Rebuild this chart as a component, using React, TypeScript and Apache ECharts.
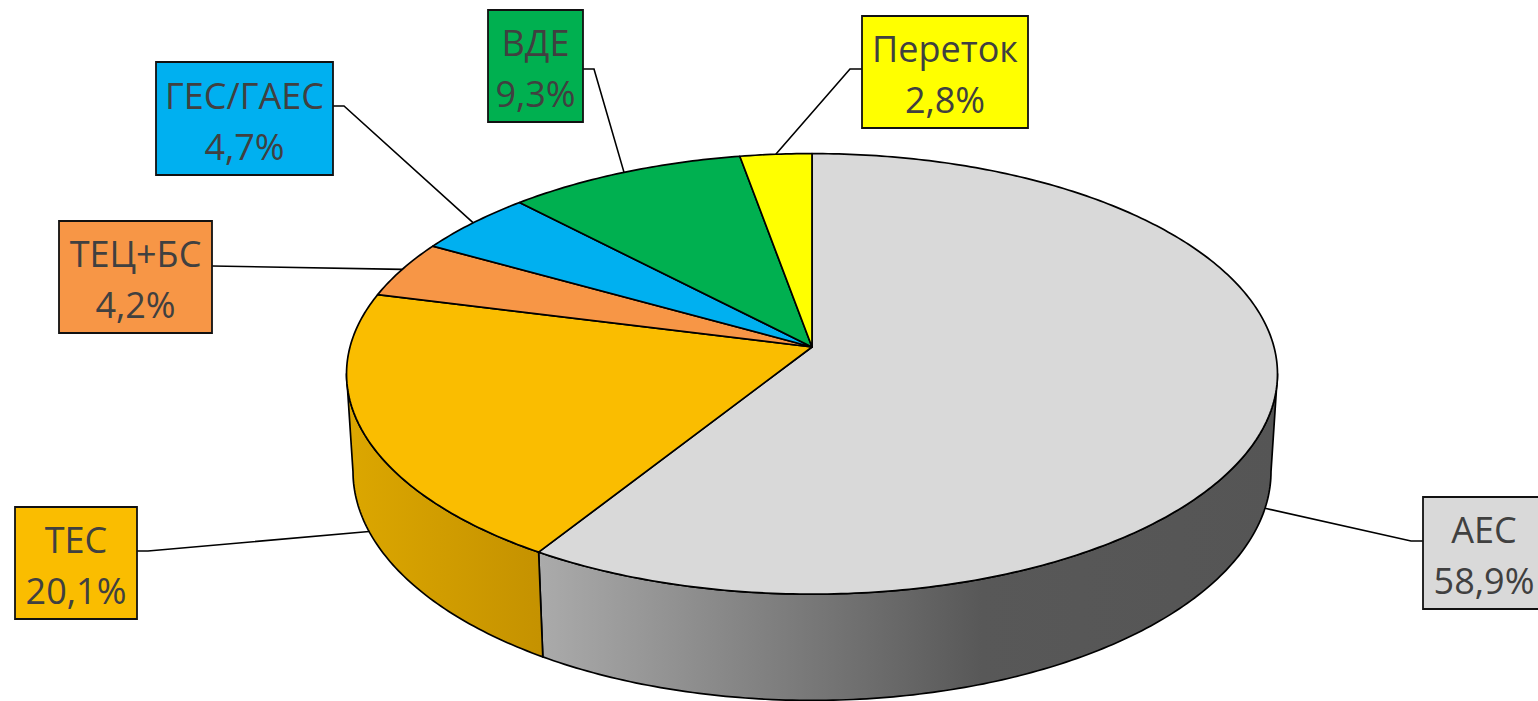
import React, { useEffect, useRef } from "react";
import * as echarts from "echarts";

// ---- data ----
const categories = ["АЕС", "ТЕС", "ТЕЦ+БС", "ГЕС/ГАЕС", "ВДЕ", "Переток"];
const shares = [58.9, 20.1, 4.2, 4.7, 9.3, 2.8];

// ---- styles ----
const palette = ["#d9d9d9", "#fabd00", "#f79646", "#00b0f0", "#00b050", "#ffff00"];

// ---- layout (perspective pie projection) ----
const PIE = { cx: 812, cy: 347, k: 462, m: 217, p: 0.122, q: 0.0139, n: 98.2 };

const boxes = [
  { x: 1423, y: 497, w: 122, h: 112, bx: 1423, by: 541, ex: 1411, ey: 541 },
  { x: 15, y: 507, w: 122, h: 112, bx: 137, by: 551, ex: 148, ey: 551 },
  { x: 59, y: 221, w: 153, h: 112, bx: 212, by: 266, ex: null, ey: null },
  { x: 156, y: 62, w: 177, h: 113, bx: 333, by: 106, ex: 344, ey: 106 },
  { x: 488, y: 10, w: 95, h: 112, bx: 583, by: 69, ex: 594, ey: 69 },
  { x: 862, y: 16, w: 166, h: 112, bx: 862, by: 69, ex: 850, ey: 69 },
];

function proj(deg: number, bottom: boolean): number[] {
  const a = (deg * Math.PI) / 180;
  const X = Math.cos(a);
  const Z = Math.sin(a);
  const w = 1 + PIE.p * Z + (bottom ? PIE.q : 0);
  return [PIE.cx + (PIE.k * X) / w, PIE.cy + (-PIE.m * Z + (bottom ? PIE.n : 0)) / w];
}

function arc(a1: number, a2: number, bottom: boolean): number[][] {
  const steps = Math.max(2, Math.ceil(Math.abs(a2 - a1) / 0.75));
  const pts: number[][] = [];
  for (let i = 0; i <= steps; i++) pts.push(proj(a1 + ((a2 - a1) * i) / steps, bottom));
  return pts;
}

const total = shares.reduce((s, v) => s + v, 0);
function sliceAngles(i: number): [number, number] {
  let cum = 0;
  for (let j = 0; j < i; j++) cum += shares[j];
  const start = 90 - (360 * cum) / total;
  const end = 90 - (360 * (cum + shares[i])) / total;
  return [start, end];
}

function wallFill(i: number): any {
  if (i === 0)
    return new echarts.graphic.LinearGradient(
      538, 0, 1278, 0,
      [
        { offset: 0, color: "#ababab" },
        { offset: 0.6, color: "#585858" },
        { offset: 1, color: "#555555" },
      ],
      true
    );
  if (i === 1)
    return new echarts.graphic.LinearGradient(
      346, 0, 540, 0,
      [
        { offset: 0, color: "#dca700" },
        { offset: 1, color: "#c59200" },
      ],
      true
    );
  return palette[i];
}

const fmt = (v: number) => v.toFixed(1).replace(".", ",") + "%";

export default function App() {
  const ref = useRef<HTMLDivElement>(null);
  useEffect(() => {
    if (!ref.current) return;
    const chart = echarts.init(ref.current, undefined, { renderer: "svg" });
    const tang = (Math.asin(PIE.p) * 180) / Math.PI;
    const lo = -180 + tang;
    const hi = -tang;
    const data = shares.map((v, i) => ({ name: categories[i], value: v }));

    chart.setOption({
      animation: false,
      backgroundColor: "#ffffff",
      series: [
        {
          type: "custom",
          coordinateSystem: "none",
          z: 1,
          silent: true,
          data,
          renderItem: (params: any) => {
            const i = params.dataIndex;
            const [s, e] = sliceAngles(i);
            const children: any[] = [];
            for (const off of [0, -360, 360]) {
              const a = Math.min(s, hi + off);
              const b = Math.max(e, lo + off);
              if (a > b) {
                const pts = arc(a, b, false).concat(arc(b, a, true));
                children.push({
                  type: "polygon",
                  shape: { points: pts },
                  style: { fill: wallFill(i), stroke: "#000", lineWidth: 1.7, lineJoin: "round" },
                });
              }
            }
            return { type: "group", children };
          },
        },
        {
          type: "custom",
          coordinateSystem: "none",
          z: 2,
          silent: true,
          data,
          renderItem: (params: any) => {
            const i = params.dataIndex;
            const [s, e] = sliceAngles(i);
            const pts = [[PIE.cx, PIE.cy]].concat(arc(s, e, false));
            return {
              type: "polygon",
              shape: { points: pts },
              style: { fill: palette[i], stroke: "#000", lineWidth: 1.7, lineJoin: "round" },
            };
          },
        },
        {
          type: "custom",
          coordinateSystem: "none",
          z: 3,
          silent: true,
          data,
          renderItem: (params: any, api: any) => {
            const i = params.dataIndex;
            const v = api.value(0);
            const [s, e] = sliceAngles(i);
            const mid = (s + e) / 2;
            const front = Math.sin((mid * Math.PI) / 180) < 0;
            const anchor = proj(mid, front);
            const b = boxes[i];
            const linePts: number[][] = [[b.bx, b.by]];
            if (b.ex !== null) linePts.push([b.ex as number, b.ey as number]);
            linePts.push(anchor);
            return {
              type: "group",
              children: [
                {
                  type: "polyline",
                  shape: { points: linePts },
                  style: { stroke: "#000", lineWidth: 1.6, fill: null },
                },
                {
                  type: "rect",
                  shape: { x: b.x, y: b.y, width: b.w, height: b.h },
                  style: { fill: palette[i], stroke: "#111", lineWidth: 1.8 },
                },
                {
                  type: "text",
                  style: {
                    text: categories[i] + "\n" + fmt(v),
                    x: b.x + b.w / 2,
                    y: b.y + b.h / 2 + 2,
                    align: "center",
                    verticalAlign: "middle",
                    fontSize: 36,
                    fontFamily: "Open Sans",
                    lineHeight: 51,
                    fill: "#404040",
                  },
                },
              ],
            };
          },
        },
      ],
    });
    return () => chart.dispose();
  }, []);
  return (
    <div
      ref={ref}
      style={{ position: "absolute", left: 0, top: 0, width: 1538, height: 701 }}
    />
  );
}
